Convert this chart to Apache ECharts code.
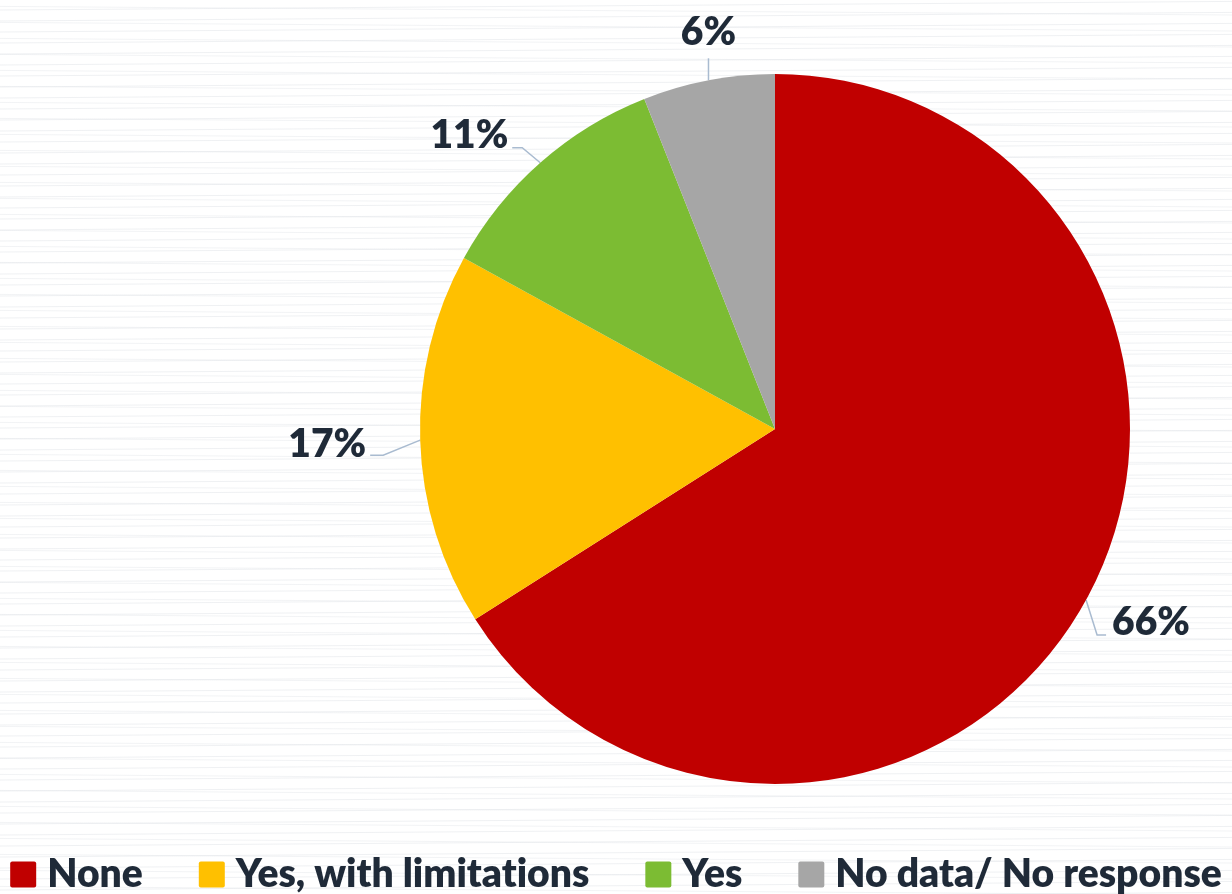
<!DOCTYPE html>
<html>
<head>
<meta charset="utf-8">
<script src="https://cdn.jsdelivr.net/npm/echarts@6/dist/echarts.min.js"></script>
<style>
  html, body { margin: 0; padding: 0; }
  body {
    width: 1232px; height: 894px; overflow: hidden;
    background-color: #ffffff;
    background-image:
      repeating-linear-gradient(179.6deg, rgba(226,229,233,0) 0px, rgba(226,229,233,0) 9px, rgba(226,229,233,0.55) 10px, rgba(226,229,233,0) 11px),
      repeating-linear-gradient(180.4deg, rgba(226,229,233,0) 0px, rgba(226,229,233,0) 14px, rgba(226,229,233,0.45) 15px, rgba(226,229,233,0) 16px);
  }
  #chart { width: 1232px; height: 894px; }
</style>
</head>
<body>
<div id="chart"></div>
<script>
const categories = ['None', 'Yes, with limitations', 'Yes', 'No data/ No response'];
const values = [66, 17, 11, 6];
const colors = ['#c00000', '#ffc000', '#7cbc33', '#a6a6a6'];

// leader-line bends and label anchors, relative to where each slice's line leaves the rim
const leaders = [
  { bend: [11, 35], end: [20, 35], text: [26, 22], align: 'left', vAlign: 'middle' },
  { bend: [-37, 15], end: [-50, 15], text: [-54, 4], align: 'right', vAlign: 'middle' },
  { bend: [-18, -15], end: [-28, -15], text: [-32, -27], align: 'right', vAlign: 'middle' },
  { bend: [0, -11], end: [0, -22], text: [0, -28], align: 'center', vAlign: 'bottom' }
];

const textColor = '#1f2a38';
const fontFamily = 'Lato, "Open Sans", sans-serif';
const fontWeight = 800;

const chart = echarts.init(document.getElementById('chart'), null, { renderer: 'canvas' });

chart.setOption({
  backgroundColor: 'transparent',
  animation: false,
  color: colors,
  legend: {
    top: 850,
    left: 'center',
    itemWidth: 26,
    itemHeight: 26,
    itemGap: 56,
    icon: 'path://M2,0 L24,0 Q26,0 26,2 L26,24 Q26,26 24,26 L2,26 Q0,26 0,24 L0,2 Q0,0 2,0 Z',
    data: categories,
    // a zero-width non-joiner keeps "ti" as two plain letters
    formatter: name => name.replace(/ti/g, 't\u200Ci'),
    textStyle: {
      color: textColor,
      fontFamily: fontFamily,
      fontWeight: fontWeight,
      fontSize: 39,
      padding: [0, 0, 0, 6]
    }
  },
  series: [{
    type: 'pie',
    center: [775, 429],
    radius: 355,
    startAngle: 90,
    clockwise: true,
    avoidLabelOverlap: false,
    data: categories.map((name, i) => ({ name: name, value: values[i] })),
    label: {
      show: true,
      formatter: p => p.value + '%',
      color: textColor,
      fontFamily: fontFamily,
      fontWeight: fontWeight,
      fontSize: 39
    },
    labelLine: {
      show: true,
      length: 10,
      length2: 10,
      lineStyle: { color: '#a9bbd0', width: 1.5 }
    },
    labelLayout: function (params) {
      const p0 = params.labelLinePoints[0];
      const l = leaders[params.dataIndex];
      return {
        x: p0[0] + l.text[0],
        y: p0[1] + l.text[1],
        align: l.align,
        verticalAlign: l.vAlign,
        labelLinePoints: [
          [p0[0], p0[1]],
          [p0[0] + l.bend[0], p0[1] + l.bend[1]],
          [p0[0] + l.end[0], p0[1] + l.end[1]]
        ]
      };
    },
    emphasis: { disabled: true }
  }]
});
</script>
</body>
</html>
